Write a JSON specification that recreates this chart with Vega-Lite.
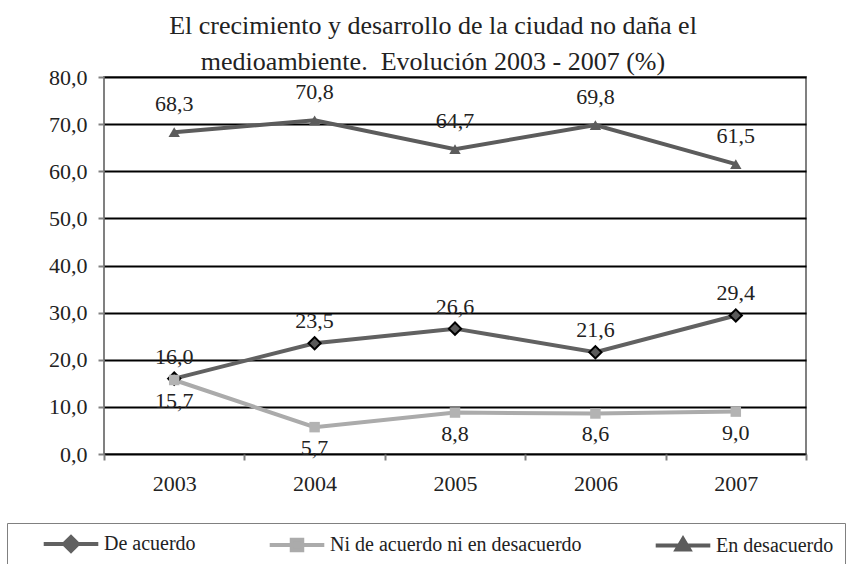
{
  "$schema": "https://vega.github.io/schema/vega-lite/v6.json",
  "width": 702,
  "height": 377,
  "autosize": {"type": "none"},
  "padding": {"left": 104, "top": 77, "right": 62, "bottom": 110},
  "background": "white",
  "config": {
    "locale": {"number": {"decimal": ",", "thousands": ".", "grouping": [3], "currency": ["", " €"]}},
    "font": "Liberation Serif",
    "view": {"stroke": "#808080", "strokeWidth": 2}
  },
  "title": {
    "text": ["El crecimiento y desarrollo de la ciudad no daña el", "medioambiente.\u00a0 Evolución 2003 - 2007 (%)"],
    "font": "Liberation Serif",
    "fontSize": 26,
    "fontWeight": "normal",
    "color": "#222222",
    "lineHeight": 36,
    "anchor": "middle",
    "dx": -22,
    "offset": -9
  },
  "data": {
    "values": [
      {"year": "2003", "serie": "De acuerdo", "value": 16.0},
      {"year": "2004", "serie": "De acuerdo", "value": 23.5},
      {"year": "2005", "serie": "De acuerdo", "value": 26.6},
      {"year": "2006", "serie": "De acuerdo", "value": 21.6},
      {"year": "2007", "serie": "De acuerdo", "value": 29.4},
      {"year": "2003", "serie": "Ni de acuerdo ni en desacuerdo", "value": 15.7},
      {"year": "2004", "serie": "Ni de acuerdo ni en desacuerdo", "value": 5.7},
      {"year": "2005", "serie": "Ni de acuerdo ni en desacuerdo", "value": 8.8},
      {"year": "2006", "serie": "Ni de acuerdo ni en desacuerdo", "value": 8.6},
      {"year": "2007", "serie": "Ni de acuerdo ni en desacuerdo", "value": 9.0},
      {"year": "2003", "serie": "En desacuerdo", "value": 68.3},
      {"year": "2004", "serie": "En desacuerdo", "value": 70.8},
      {"year": "2005", "serie": "En desacuerdo", "value": 64.7},
      {"year": "2006", "serie": "En desacuerdo", "value": 69.8},
      {"year": "2007", "serie": "En desacuerdo", "value": 61.5}
    ]
  },
  "encoding": {
    "x": {
      "field": "year", "type": "ordinal", "bandPosition": 0.5,
      "scale": {"type": "band", "paddingInner": 0, "paddingOuter": 0},
      "axis": {
        "title": null, "labelAngle": 0, "tickBand": "extent", "domain": false, "grid": false,
        "ticks": true, "tickColor": "#808080", "tickWidth": 2, "tickSize": 6,
        "labelFont": "Liberation Serif", "labelFontSize": 22, "labelColor": "#222222", "labelPadding": 13
      }
    },
    "y": {
      "field": "value", "type": "quantitative",
      "scale": {"domain": [0, 80], "nice": false},
      "axis": {
        "title": null, "values": [0, 10, 20, 30, 40, 50, 60, 70, 80], "format": ".1f",
        "domain": false, "grid": true, "gridColor": "#000000", "gridWidth": 2, "gridOpacity": 1,
        "ticks": true, "tickColor": "#808080", "tickWidth": 2, "tickSize": 6,
        "labelFont": "Liberation Serif", "labelFontSize": 22, "labelColor": "#222222", "labelPadding": 11
      }
    }
  },
  "layer": [
    {
      "mark": {"type": "line", "strokeWidth": 4},
      "encoding": {
        "color": {
          "field": "serie", "type": "nominal",
          "scale": {
            "domain": ["De acuerdo", "Ni de acuerdo ni en desacuerdo", "En desacuerdo"],
            "range": ["#616161", "#ababab", "#5c5c5c"]
          },
          "legend": {
            "title": null, "orient": "none", "legendX": -97, "legendY": 446,
            "direction": "horizontal", "columns": 3, "columnPadding": 48,
            "padding": 11, "strokeColor": "#808080", "fillColor": "white",
            "labelFont": "Liberation Serif", "labelFontSize": 20, "labelColor": "#222222",
            "labelOffset": 23, "symbolOffset": 43, "labelLimit": 400,
            "encode": {
              "symbols": {
                "update": {
                  "shape": {"signal": "datum.value === 'De acuerdo' ? 'M-3.9,0H3.9M-1,0L0,-1L1,0L0,1Z' : datum.value === 'En desacuerdo' ? 'M-3.9,0H3.9M-0.9,0.55L0,-0.95L0.9,0.55Z' : 'M-3.9,0H3.9M-0.75,-0.75H0.75V0.75H-0.75Z'"},
                  "size": {"value": 196},
                  "strokeWidth": {"value": 4},
                  "stroke": {"scale": "color", "field": "value"},
                  "fill": {"scale": "color", "field": "value"},
                  "fillOpacity": {"value": 1},
                  "opacity": {"value": 1}
                }
              }
            }
          }
        }
      }
    },
    {
      "transform": [{"filter": "datum.serie === 'De acuerdo'"}],
      "mark": {"type": "point", "shape": "diamond", "filled": true, "fill": "#5a5a5a", "stroke": "#000000", "strokeWidth": 2, "size": 150, "opacity": 1}
    },
    {
      "transform": [{"filter": "datum.serie === 'Ni de acuerdo ni en desacuerdo'"}],
      "mark": {"type": "point", "shape": "square", "filled": true, "fill": "#b3b3b3", "size": 110, "opacity": 1}
    },
    {
      "transform": [{"filter": "datum.serie === 'En desacuerdo'"}],
      "mark": {"type": "point", "shape": "triangle-up", "filled": true, "fill": "#5c5c5c", "size": 130, "opacity": 1}
    },
    {
      "transform": [{"filter": "datum.serie === 'En desacuerdo'"}],
      "mark": {"type": "text", "dy": -28, "fontSize": 22, "font": "Liberation Serif", "color": "#222222"},
      "encoding": {"text": {"field": "value", "type": "quantitative", "format": ".1f"}}
    },
    {
      "transform": [{"filter": "datum.serie === 'De acuerdo'"}],
      "mark": {"type": "text", "dy": -22, "fontSize": 22, "font": "Liberation Serif", "color": "#222222"},
      "encoding": {"text": {"field": "value", "type": "quantitative", "format": ".1f"}}
    },
    {
      "transform": [{"filter": "datum.serie === 'Ni de acuerdo ni en desacuerdo'"}],
      "mark": {"type": "text", "dy": 21, "fontSize": 22, "font": "Liberation Serif", "color": "#222222"},
      "encoding": {"text": {"field": "value", "type": "quantitative", "format": ".1f"}}
    }
  ]
}
